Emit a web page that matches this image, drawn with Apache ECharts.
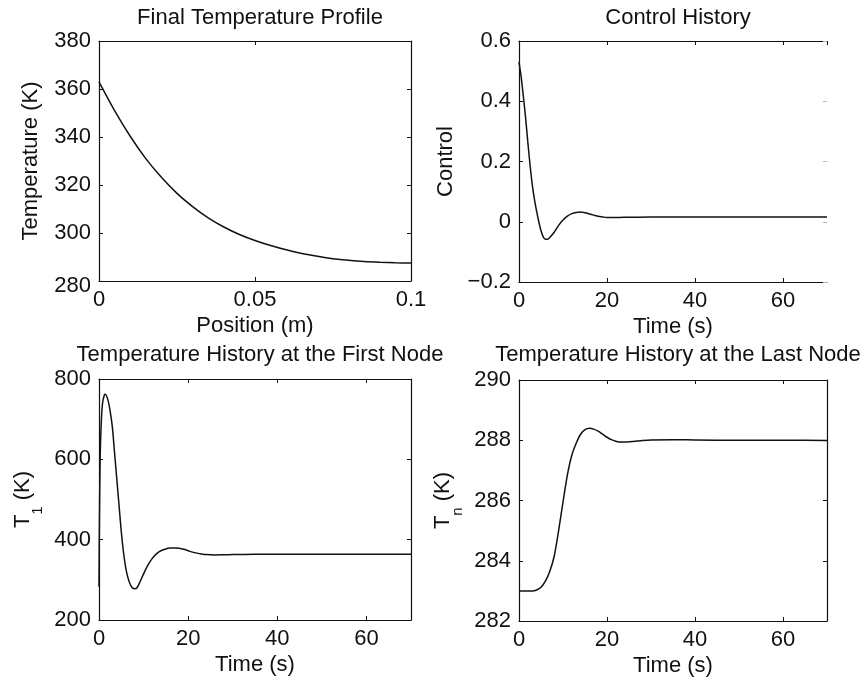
<!DOCTYPE html>
<html>
<head>
<meta charset="utf-8">
<script src="https://cdn.jsdelivr.net/npm/echarts@6/dist/echarts.min.js"></script>
<style>
html,body{margin:0;padding:0;background:#fff;}
#c{width:867px;height:684px;}
</style>
</head>
<body>
<div id="c"></div>
<script>
// ---------- data ----------
const posX = [0,0.005,0.01,0.015,0.02,0.025,0.03,0.035,0.04,0.045,0.05,0.055,0.06,0.065,0.07,0.075,0.08,0.085,0.09,0.095,0.1];
const tempProfile = [363,351,340.3,331,323.2,316.5,311,306.3,302.5,299.4,296.9,294.8,293.0,291.5,290.3,289.3,288.6,288.1,287.8,287.6,287.5];

const tCtrl = [0,0.5,1,1.5,2,2.5,3,3.5,4,4.5,5,5.5,6,6.5,7,8,9,10,11,12,13,14,15,16,17,18,19,20,22,25,30,40,50,60,70];
const uCtrl = [0.53,0.48,0.415,0.345,0.265,0.19,0.125,0.075,0.035,0.0,-0.03,-0.05,-0.058,-0.058,-0.052,-0.035,-0.012,0.006,0.019,0.027,0.031,0.032,0.03,0.026,0.022,0.018,0.016,0.014,0.014,0.015,0.016,0.016,0.016,0.016,0.016];

const tT1 = [0,0.1,0.25,0.5,0.8,1.2,1.4,2,2.5,3,3.5,4,4.5,5,5.5,6,6.5,7,7.5,8,8.5,9,10,11,12,13,14,15,16,17,18,19,20,21,22,23,24,26,28,30,35,40,50,60,70];
const T1 = [283,450,600,690,740,760,762,748,720,680,615,550,485,420,368,330,305,289,280,278,280,290,315,337,354,366,373,377,379,379.5,378.5,376,372.5,369,366.5,364.5,363,362,362.5,363,364,364,363.5,363.5,363.5];

const tTn = [0,2,3,4,5,6,7,8,9,10,11,12,13,14,15,16,17,18,19,20,21,22,23,24,26,28,30,35,40,50,60,70];
const Tn = [283.0,283.0,283.0,283.03,283.12,283.32,283.65,284.15,285.0,285.95,286.85,287.5,287.9,288.2,288.35,288.4,288.37,288.3,288.2,288.1,288.02,287.97,287.94,287.94,287.96,287.99,288.01,288.02,288.01,288.0,288.0,287.99];

const titles = ['Final Temperature Profile','Control History','Temperature History at the First Node','Temperature History at the Last Node'];
const xNames = ['Position (m)','Time (s)','Time (s)','Time (s)'];

// ---------- layout / style ----------
const FONT = 'Liberation Sans, Arial, Helvetica, sans-serif';
const INK = '#111';
const grids = [
  {left:99, top:41, width:312, height:240},
  {left:519, top:41, width:308, height:241},
  {left:99, top:379, width:312, height:241},
  {left:519, top:380, width:308, height:241}
];
const xr = [[0,0.1,0.05],[0,70,20],[0,70,20],[0,70,20]];
const yr = [[280,380,20],[-0.2,0.6,0.2],[200,800,200],[282,290,2]];
const titleTop = [2,2,339,339];

function zip(a,b){return a.map((v,i)=>[v,b[i]]);}
const seriesData = [zip(posX,tempProfile), zip(tCtrl,uCtrl), zip(tT1,T1), zip(tTn,Tn)];

const xAxes = [], yAxes = [];
for (let i=0;i<4;i++){
  xAxes.push({
    type:'value', gridIndex:i, min:xr[i][0], max:xr[i][1], interval:xr[i][2],
    position:'bottom',
    name:xNames[i], nameLocation:'middle', nameGap:34,
    nameTextStyle:{fontSize:22, color:INK, fontFamily:FONT},
    axisLine:{show:true, onZero:false, lineStyle:{color:INK, width:1.2}},
    axisTick:{show:true, inside:true, length:4, lineStyle:{color:INK}},
    axisLabel:{fontSize:22, color:INK, fontFamily:FONT, margin:8, showMaxLabel: i===0 ? true : false},
    splitLine:{show:false}
  });
  yAxes.push({
    type:'value', gridIndex:i, min:yr[i][0], max:yr[i][1], interval:yr[i][2],
    position:'left',
    axisLine:{show:true, onZero:false, lineStyle:{color:INK, width:1.2}},
    axisTick:{show:true, inside:true, length:4, lineStyle:{color:INK}},
    axisLabel:{fontSize:22, color:INK, fontFamily:FONT, margin:8,
      formatter:(v)=>{ const s = String(+v.toFixed(6)).replace('-', '\u2212'); return (i===0 && v===280) ? '{lo|'+s+'}' : s; },
      rich:{lo:{fontSize:22, color:INK, fontFamily:FONT, padding:[9,0,0,0]}}
    },
    splitLine:{show:false},
    nameLocation:'middle',
    nameTextStyle:{fontSize:22, color:INK, fontFamily:FONT}
  });
}
yAxes[0].name = 'Temperature (K)'; yAxes[0].nameGap = 57;
yAxes[1].name = 'Control'; yAxes[1].nameGap = 62;
const subRich = {
  m:{fontSize:22, color:INK, fontFamily:FONT},
  s:{fontSize:15, color:INK, fontFamily:FONT, padding:[30,0,0,0]}
};
yAxes[2].name = '{m|T}{s|1}{m| (K)}'; yAxes[2].nameGap = 54; yAxes[2].nameTextStyle = {rich:subRich};
yAxes[3].name = '{m|T}{s|n}{m| (K)}'; yAxes[3].nameGap = 54; yAxes[3].nameTextStyle = {rich:subRich};

// mirrored frame axes (top / right) with inside ticks
for (let i=0;i<4;i++){
  xAxes.push({
    type:'value', gridIndex:i, min:xr[i][0], max:xr[i][1], interval:xr[i][2], position:'top',
    axisLine:{show:true, onZero:false, lineStyle:{color:INK, width:1.2}},
    axisTick:{show:true, inside:true, length:4, lineStyle:{color:INK}},
    axisLabel:{show:false}, splitLine:{show:false}
  });
  yAxes.push({
    type:'value', gridIndex:i, min:yr[i][0], max:yr[i][1], interval:yr[i][2], position:'right',
    axisLine:{show: i!==1, onZero:false, lineStyle:{color:INK, width:1.2}},
    axisTick:{show:true, inside:true, length:4, lineStyle:{color: i===1 ? '#bbb' : INK}},
    axisLabel:{show:false}, splitLine:{show:false}
  });
}

const series = seriesData.map((d,i)=>({
  type:'line', xAxisIndex:i, yAxisIndex:i, data:d,
  showSymbol:false, smooth:0.25,
  lineStyle:{color:INK, width:1.5}, animation:false
}));

const chart = echarts.init(document.getElementById('c'), null, {renderer:'canvas'});
chart.setOption({
  backgroundColor:'#fff',
  animation:false,
  title: titles.map((t,i)=>({
    text:t, left: grids[i].left + grids[i].width/2, top: titleTop[i], textAlign:'center',
    textStyle:{fontSize:22, fontWeight:'normal', color:INK, fontFamily:FONT}
  })),
  grid: grids,
  xAxis: xAxes,
  yAxis: yAxes,
  series: series
});
</script>
</body>
</html>
